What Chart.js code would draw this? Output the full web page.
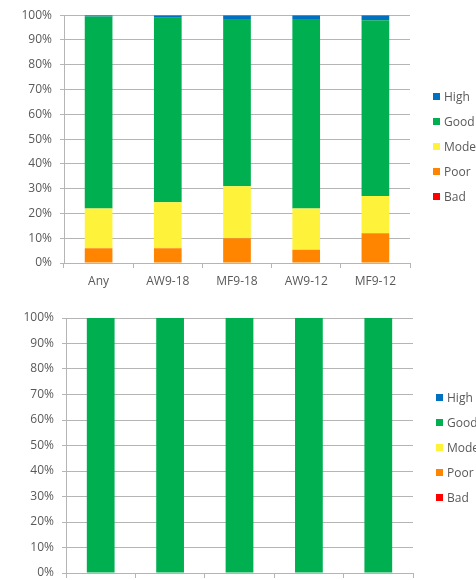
<!DOCTYPE html>
<html>
<head>
<meta charset="utf-8">
<script src="https://cdn.jsdelivr.net/npm/chart.js@4/dist/chart.umd.min.js"></script>
<style>
  html, body { margin: 0; padding: 0; width: 476px; height: 580px; overflow: hidden; background: #fff; }
  #wrap { position: relative; width: 476px; height: 580px; overflow: hidden; }
  canvas { position: absolute; left: 0; }
  .leg { position: absolute; font-family: "Open Sans", sans-serif; font-size: 12px; color: #595959; white-space: nowrap; line-height: 14px; }
  .leg i { display: inline-block; width: 7px; height: 7px; margin-right: 4px; vertical-align: 1px; }
</style>
</head>
<body>
<div id="wrap">
  <canvas id="c1" width="476" height="300" style="top:0"></canvas>
  <canvas id="c2" width="476" height="300" style="top:300px"></canvas>
</div>
<script>
// ---- data ----
const categories = ["Any", "AW9-18", "MF9-18", "AW9-12", "MF9-12"];
const seriesNames = ["Bad", "Poor", "Moderate", "Good", "High"];
const seriesColors = ["#FF0000", "#FF8400", "#FFF23A", "#00B050", "#0070C0"];

// top chart (percent)
const top_Bad      = [0, 0, 0, 0, 0];
const top_Poor     = [6, 6, 10, 5.3, 12];
const top_Moderate = [16, 18.5, 21, 16.7, 15];
const top_Good     = [77.5, 74.5, 67.5, 76.5, 71];
const top_High     = [0.5, 1, 1.5, 1.5, 2];

// bottom chart (percent)
const bot_Bad      = [0, 0, 0, 0, 0];
const bot_Poor     = [0, 0, 0, 0, 0];
const bot_Moderate = [0, 0, 0, 0, 0];
const bot_Good     = [100, 100, 100, 100, 100];
const bot_High     = [0, 0, 0, 0, 0];

const yTicks = [0, 10, 20, 30, 40, 50, 60, 70, 80, 90, 100];

const FONT = { family: "'Open Sans', sans-serif", size: 12 };
const TXT = "#595959";
const GRID = "#b5b5b5";

function makeChart(id, values, geom) {
  const datasets = values.map((v, i) => ({
    label: seriesNames[i],
    data: v,
    backgroundColor: seriesColors[i],
    borderWidth: 0,
    categoryPercentage: 1.0,
    barPercentage: 0.4
  }));
  return new Chart(document.getElementById(id), {
    type: "bar",
    data: { labels: categories, datasets },
    options: {
      responsive: false,
      animation: false,
      layout: { padding: { top: geom.top, right: geom.right, bottom: 0, left: 0 } },
      plugins: { legend: { display: false }, tooltip: { enabled: false } },
      scales: {
        x: {
          stacked: true,
          offset: true,
          grid: { display: true, offset: true, drawOnChartArea: false, drawTicks: true, tickLength: 5, color: GRID },
          border: { display: true, color: GRID },
          ticks: { font: FONT, color: TXT, padding: 6, maxRotation: 0 },
          afterFit: s => { s.height = geom.xh; }
        },
        y: {
          stacked: true,
          min: 0, max: 100,
          afterBuildTicks: s => { s.ticks = yTicks.map(v => ({ value: v })); },
          grid: { color: GRID, tickLength: 4 },
          border: { display: true, color: GRID },
          ticks: { font: FONT, color: TXT, padding: 8, callback: v => v + "%" },
          afterFit: s => { s.width = geom.yw; }
        }
      }
    }
  });
}

makeChart("c1", [top_Bad, top_Poor, top_Moderate, top_Good, top_High], { top: 12, right: 66, xh: 37, yw: 64 });
makeChart("c2", [bot_Bad, bot_Poor, bot_Moderate, bot_Good, bot_High], { top: 18, right: 63, xh: 27, yw: 66 });

// HTML legends (top entry = last series)
function legend(x, yCenters) {
  const wrap = document.getElementById("wrap");
  for (let k = 0; k < seriesNames.length; k++) {
    const idx = seriesNames.length - 1 - k;
    const d = document.createElement("div");
    d.className = "leg";
    d.style.left = x + "px";
    d.style.top = (yCenters[k] - 7) + "px";
    d.innerHTML = '<i style="background:' + seriesColors[idx] + '"></i>' + seriesNames[idx];
    wrap.appendChild(d);
  }
}
legend(433, [97, 122, 147, 172, 197]);
legend(436, [398, 423, 448, 473, 498]);
</script>
</body>
</html>
